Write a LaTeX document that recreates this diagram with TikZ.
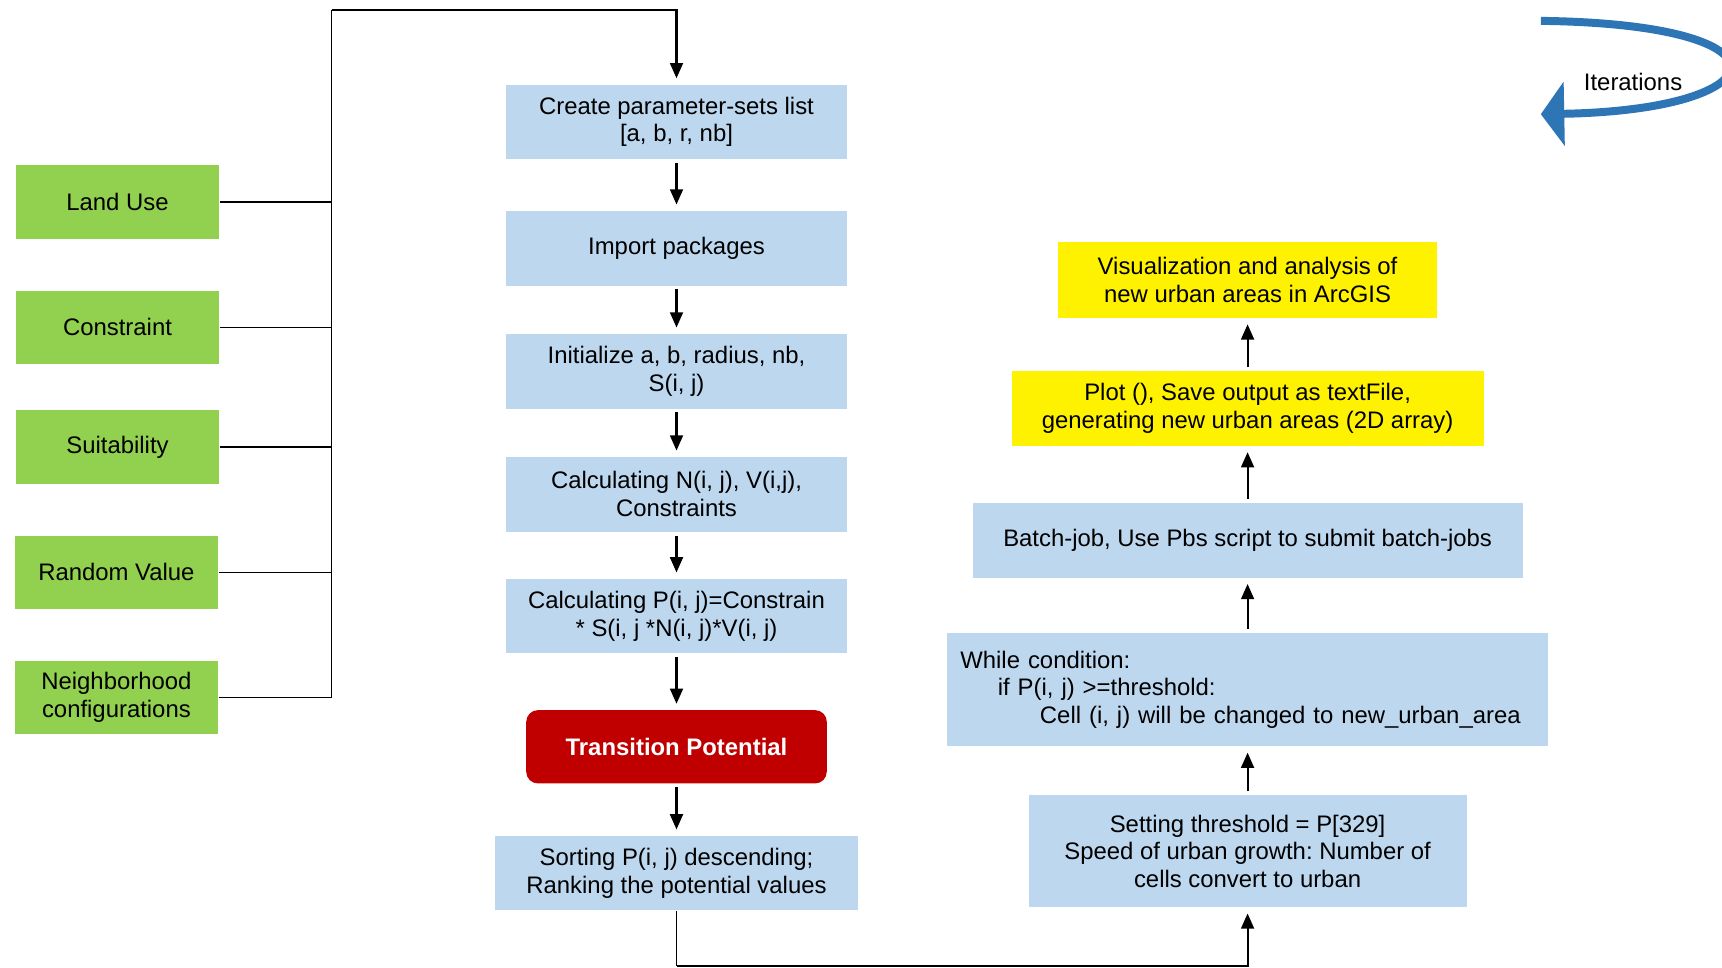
\documentclass[tikz,border=0pt]{standalone}
\usepackage{fontspec}
\setmainfont{Liberation Sans}
\usepackage{tikz}
\usetikzlibrary{arrows.meta, positioning, calc}

\definecolor{inputgreen}{HTML}{92D050}
\definecolor{stepblue}{HTML}{BDD7EE}
\definecolor{tpred}{HTML}{C00000}
\definecolor{iterblue}{HTML}{2E75B6}

\frenchspacing
\begin{document}
\begin{tikzpicture}[
  x=0.016473cm, y=-0.016473cm,
  every node/.style={font={\fontsize{10.2}{11.8}\selectfont}, align=center, inner sep=2pt},
  input/.style={fill=inputgreen, minimum width=3.05cm, minimum height=1.10cm},
  stepbox/.style={fill=stepblue, minimum width=5.11cm, minimum height=1.12cm},
  outbox/.style={fill=yellow, minimum height=1.12cm},
  arr/.style={-{Triangle[length=6.5pt, width=5.5pt]}, line width=0.9pt,
              shorten >=2.5pt, shorten <=1.5pt},
  bus/.style={line width=0.5pt},
]
  \useasboundingbox (0,0) rectangle (1568,881);

  % Inputs
  \foreach \i/\x/\y/\txt in {1/107/184/Land Use, 2/107/298/Constraint,
      3/107/407/Suitability, 4/106/521/Random Value,
      5/106/635/{Neighborhood\\configurations}}
    \node[input] (in\i) at (\x,\y) {\txt};

  % Main column
  \node[stepbox] (s1) at (616,111) {Create parameter-sets list\\{[a, b, r, nb]}};
  \node[stepbox] (s2) at (616,226) {Import packages};
  \node[stepbox] (s3) at (616,338) {Initialize a, b, radius, nb,\\S(i, j)};
  \node[stepbox] (s4) at (616,450) {Calculating N(i, j), V(i,j),\\Constraints};
  \node[stepbox] (s5) at (616,561) {Calculating P(i, j)=Constrain\\{}* S(i, j *N(i, j)*V(i, j)};
  \node[fill=tpred, text=white, font={\fontsize{10.2}{11.8}\selectfont\bfseries},
        rounded corners=5pt, minimum width=4.51cm, minimum height=1.10cm]
       (tp) at (616,680) {Transition Potential};
  \node[stepbox, minimum width=5.44cm] (s6) at (616,795)
       {Sorting P(i, j) descending;\\Ranking the potential values};

  % Right column
  \node[stepbox, minimum width=6.57cm, minimum height=1.68cm] (r1) at (1136,775)
       {Setting threshold = P[329]\\Speed of urban growth: Number of\\cells convert to urban};
  \node[stepbox, minimum height=1.70cm, align=left, text width=8.62cm, inner xsep=0.2cm]
       (r2) at (1136,628)
       {While condition:\\\hspace*{16pt}if P(i, j) >=threshold:\\\hspace*{34pt}Cell (i, j) will be changed to new\_urban\_area};
  \node[stepbox, minimum width=8.25cm] (r3) at (1136,492)
       {Batch-job, Use Pbs script to submit batch-jobs};
  \node[outbox, minimum width=7.08cm] (r4) at (1136,372)
       {Plot (), Save output as textFile,\\generating new urban areas (2D array)};
  \node[outbox, minimum width=5.68cm, minimum height=1.14cm] (r5) at (1136,255)
       {Visualization and analysis of\\new urban areas in ArcGIS};

  % Bus from inputs to top of main column
  \coordinate (bustop) at (302,9);
  \coordinate (low) at (612,880);
  \foreach \i in {1,...,5}
    \draw[bus] (in\i.east) -- (in\i.east -| bustop);
  \draw[bus] (bustop) -- (in5.east -| bustop);
  \draw[arr, shorten <=0pt] (bustop) -- (bustop -| s1.north) -- (s1.north);

  % Flow arrows
  \foreach \a/\b in {s1/s2, s2/s3, s3/s4, s4/s5, s5/tp, tp/s6, r1/r2, r2/r3, r3/r4, r4/r5}
    \draw[arr] (\a) -- (\b);
  \draw[bus] (s6.south) -- (s6.south |- low);
  \draw[arr, shorten <=0pt] (s6.south |- low) -- (r1.south |- low) -- (r1.south);

  % Iterations
  \draw[line width=3.4pt, iterblue, -{Triangle[length=10pt, width=27pt]}]
    (1403,19) .. controls (1640,22) and (1620,100) .. (1403,104);
  \node (iter) at (1487,75) {Iterations};
\end{tikzpicture}
\end{document}
